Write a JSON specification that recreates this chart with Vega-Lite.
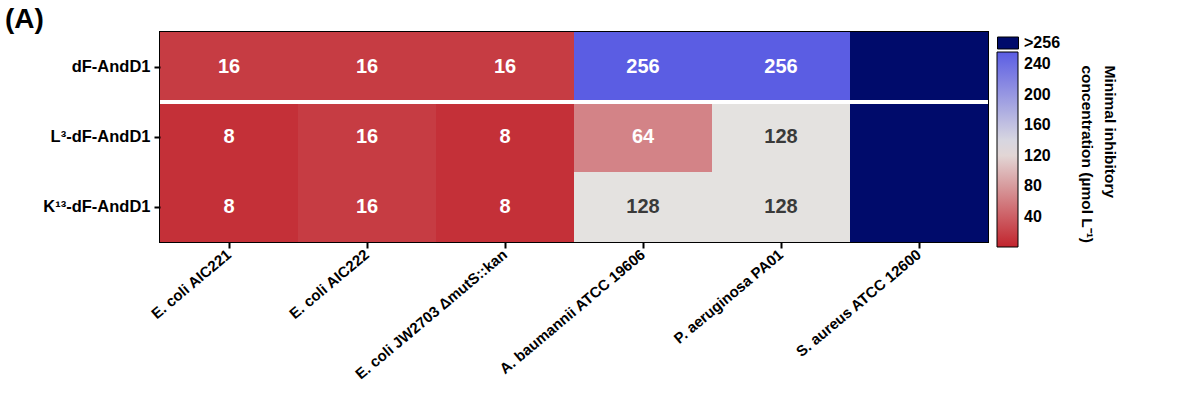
{
  "$schema": "https://vega.github.io/schema/vega-lite/v6.json",
  "autosize": {"type": "none"},
  "width": 828,
  "height": 210,
  "padding": {"left": 160, "top": 32, "right": 212, "bottom": 155},
  "background": "white",
  "title": {"text": "(A)", "anchor": "start", "frame": "group", "dx": -155, "offset": -2, "fontSize": 28, "fontWeight": "bold", "font": "Liberation Sans", "color": "black"},
  "config": {
    "font": "Liberation Sans",
    "view": {"stroke": "black", "strokeWidth": 2},
    "axis": {"labelFont": "Liberation Sans", "labelFontWeight": "bold", "labelColor": "black", "tickColor": "black", "tickWidth": 2, "tickSize": 6, "domain": false, "grid": false}
  },
  "data": {"values": [
    {"strain": "E. coli AIC221", "drug": "dF-AndD1", "mic": 16, "cat": null},
    {"strain": "E. coli AIC222", "drug": "dF-AndD1", "mic": 16, "cat": null},
    {"strain": "E. coli JW2703 ΔmutS::kan", "drug": "dF-AndD1", "mic": 16, "cat": null},
    {"strain": "A. baumannii ATCC 19606", "drug": "dF-AndD1", "mic": 256, "cat": null},
    {"strain": "P. aeruginosa PA01", "drug": "dF-AndD1", "mic": 256, "cat": null},
    {"strain": "S. aureus ATCC 12600", "drug": "dF-AndD1", "mic": null, "cat": ">256"},
    {"strain": "E. coli AIC221", "drug": "L³-dF-AndD1", "mic": 8, "cat": null},
    {"strain": "E. coli AIC222", "drug": "L³-dF-AndD1", "mic": 16, "cat": null},
    {"strain": "E. coli JW2703 ΔmutS::kan", "drug": "L³-dF-AndD1", "mic": 8, "cat": null},
    {"strain": "A. baumannii ATCC 19606", "drug": "L³-dF-AndD1", "mic": 64, "cat": null},
    {"strain": "P. aeruginosa PA01", "drug": "L³-dF-AndD1", "mic": 128, "cat": null},
    {"strain": "S. aureus ATCC 12600", "drug": "L³-dF-AndD1", "mic": null, "cat": ">256"},
    {"strain": "E. coli AIC221", "drug": "K¹³-dF-AndD1", "mic": 8, "cat": null},
    {"strain": "E. coli AIC222", "drug": "K¹³-dF-AndD1", "mic": 16, "cat": null},
    {"strain": "E. coli JW2703 ΔmutS::kan", "drug": "K¹³-dF-AndD1", "mic": 8, "cat": null},
    {"strain": "A. baumannii ATCC 19606", "drug": "K¹³-dF-AndD1", "mic": 128, "cat": null},
    {"strain": "P. aeruginosa PA01", "drug": "K¹³-dF-AndD1", "mic": 128, "cat": null},
    {"strain": "S. aureus ATCC 12600", "drug": "K¹³-dF-AndD1", "mic": null, "cat": ">256"}
  ]},
  "layer": [
    {
      "transform": [{"filter": "isValid(datum.mic)"}],
      "mark": {"type": "rect"},
      "encoding": {
        "x": {"field": "strain", "type": "nominal", "sort": null, "scale": {"paddingInner": 0, "paddingOuter": 0},
              "axis": {"title": null, "labelAngle": -40, "labelFontSize": 15, "labelAlign": "right", "labelBaseline": "middle", "labelPadding": 4, "labelLimit": 400}},
        "y": {"field": "drug", "type": "nominal", "sort": null, "scale": {"paddingInner": 0, "paddingOuter": 0},
              "axis": {"title": null, "orient": "left", "labelFontSize": 16.5, "labelPadding": 4}},
        "color": {"field": "mic", "type": "quantitative",
          "scale": {"domain": [0, 128, 256], "range": ["#c2242d", "#e4e2e0", "#5b5de3"], "interpolate": "rgb"},
          "legend": {"orient": "none", "legendX": 837, "legendY": 20, "direction": "vertical", "gradientLength": 195, "gradientThickness": 21,
            "gradientStrokeColor": "black", "gradientStrokeWidth": 1, "values": [40, 80, 120, 160, 200, 240],
            "labelFontSize": 16, "labelFontWeight": "bold", "labelColor": "black", "labelOffset": 6, "labelOverlap": false, "padding": 0,
            "title": null}
        }
      }
    },
    {
      "transform": [{"filter": "!isValid(datum.mic)"}],
      "mark": {"type": "rect"},
      "encoding": {
        "x": {"field": "strain", "type": "nominal", "sort": null},
        "y": {"field": "drug", "type": "nominal", "sort": null,
              "axis": {"orient": "right", "labels": false, "ticks": false, "domain": false,
                       "title": ["Minimal inhibitory", "concentration (µmol L⁻¹)"], "titleAngle": 90, "titleAlign": "left", "titleBaseline": "top",
                       "titleX": 128, "titleY": 33, "titleFont": "Liberation Sans", "titleFontSize": 15.5, "titleFontWeight": "bold", "titleColor": "black", "titleLineHeight": 23, "titleLimit": 400}},
        "color": {"field": "cat", "type": "nominal",
          "scale": {"domain": [">256"], "range": ["#000b6b"]},
          "legend": {"orient": "none", "legendX": 837, "legendY": 0, "title": null, "padding": 0,
            "symbolType": "M-1,-0.57H1V0.57H-1Z", "symbolSize": 441, "symbolStrokeColor": "black", "symbolStrokeWidth": 1,
            "labelFontSize": 16, "labelFontWeight": "bold", "labelColor": "black", "labelOffset": 5}
        }
      }
    },
    {
      "transform": [{"filter": "datum.drug === 'dF-AndD1'"}],
      "mark": {"type": "rule", "color": "white", "strokeWidth": 4},
      "encoding": {"y": {"field": "drug", "type": "nominal", "sort": null, "bandPosition": 1, "axis": null}}
    },
    {
      "transform": [{"filter": "isValid(datum.mic)"}],
      "mark": {"type": "text", "fontSize": 20, "fontWeight": "bold", "font": "Liberation Sans"},
      "encoding": {
        "x": {"field": "strain", "type": "nominal", "sort": null},
        "y": {"field": "drug", "type": "nominal", "sort": null, "axis": null},
        "text": {"field": "mic", "type": "quantitative"},
        "color": {"condition": {"test": "datum.mic === 128", "value": "#3a3a3a"}, "value": "white"}
      }
    }
  ],
  "resolve": {"scale": {"color": "independent"}, "axis": {"y": "independent"}}
}
